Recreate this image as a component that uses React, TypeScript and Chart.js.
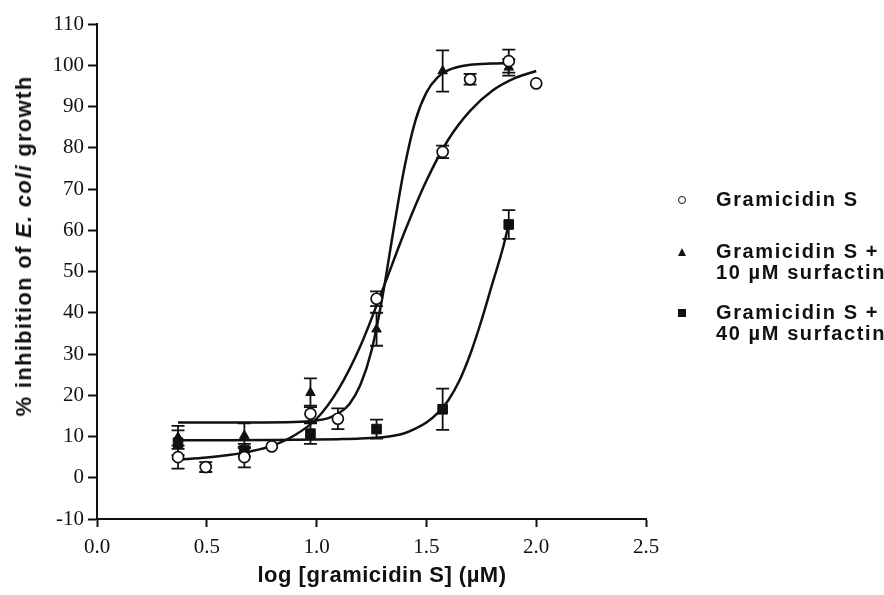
import React, { useEffect, useRef } from "react";
import { Chart, registerables } from "chart.js";

Chart.register(...registerables);

// ---- Data ----
const xTickValues = [0, 0.5, 1.0, 1.5, 2.0, 2.5];
const yTickValues = [-10, 0, 10, 20, 30, 40, 50, 60, 70, 80, 90, 100, 110];

// Gramicidin S alone (open circles)
const gsLogConc = [0.369, 0.495, 0.671, 0.796, 0.972, 1.097, 1.273, 1.574, 1.699, 1.875, 2.0];
const gsMean = [5.0, 2.6, 5.0, 7.6, 15.5, 14.3, 43.4, 79.0, 96.6, 101.0, 95.6];
const gsErr = [2.8, 1.2, 2.5, 0, 2.0, 2.5, 1.8, 1.5, 1.3, 2.8, 0];

// Gramicidin S + 10 uM surfactin (filled triangles)
const gs10LogConc = [0.369, 0.671, 0.972, 1.273, 1.574, 1.875];
const gs10Mean = [9.8, 10.2, 20.6, 36.0, 98.6, 99.5];
const gs10Err = [2.8, 3.0, 3.5, 4.0, 5.0, 2.0];

// Gramicidin S + 40 uM surfactin (filled squares)
const gs40LogConc = [0.369, 0.671, 0.972, 1.273, 1.574, 1.875];
const gs40Mean = [8.5, 6.7, 10.7, 11.8, 16.6, 61.4];
const gs40Err = [3.0, 1.5, 2.5, 2.3, 5.0, 3.5];

// Fitted curves
const fitGsX = [0.369, 0.5, 0.6, 0.7, 0.8, 0.9, 1.0, 1.1, 1.2, 1.3, 1.4, 1.5, 1.6, 1.7, 1.8, 1.9, 2.0];
const fitGsY = [4.4, 4.9, 5.5, 6.4, 7.8, 10.3, 14.3, 21.5, 32.0, 45.5, 59.5, 72.0, 82.0, 89.0, 93.8, 96.8, 98.6];

const fitGs10X = [0.369, 0.7, 0.9, 1.0, 1.05, 1.1, 1.15, 1.2, 1.25, 1.3, 1.35, 1.4, 1.45, 1.5, 1.55, 1.6, 1.7, 1.8, 1.875];
const fitGs10Y = [13.4, 13.4, 13.5, 13.9, 14.4, 15.6, 17.9, 22.6, 30.8, 43.9, 60.0, 75.2, 86.6, 93.4, 97.0, 98.8, 100.1, 100.4, 100.5];

const fitGs40X = [0.369, 0.6, 0.8, 1.0, 1.1, 1.2, 1.3, 1.4, 1.45, 1.5, 1.55, 1.6, 1.65, 1.7, 1.75, 1.8, 1.85, 1.875];
const fitGs40Y = [9.1, 9.1, 9.15, 9.25, 9.35, 9.5, 9.8, 10.8, 11.9, 13.4, 15.6, 18.8, 23.5, 30.0, 38.0, 47.0, 56.0, 61.5];

const MU = "\u00b5";
const legendLabels = [
  ["Gramicidin S"],
  ["Gramicidin S +", `10 ${MU}M surfactin`],
  ["Gramicidin S +", `40 ${MU}M surfactin`],
];
const xTitle = `log [gramicidin S] (${MU}M)`;

const zip = (xs: number[], ys: number[]) => xs.map((x, i) => ({ x, y: ys[i] }));

const errorBarPlugin = {
  id: "errorBars",
  beforeDatasetsDraw(chart: any) {
    const { ctx, scales } = chart;
    const xs = scales.x;
    const ys = scales.y;
    ctx.save();
    ctx.strokeStyle = "#111";
    ctx.lineWidth = 1.8;
    chart.data.datasets.forEach((ds: any) => {
      const errs: number[] | undefined = ds.errors;
      if (!errs) return;
      ds.data.forEach((p: any, j: number) => {
        const e = errs[j];
        if (!e) return;
        const px = xs.getPixelForValue(p.x);
        const top = ys.getPixelForValue(p.y + e);
        const bot = ys.getPixelForValue(p.y - e);
        const cap = 6.5;
        ctx.beginPath();
        ctx.moveTo(px, top);
        ctx.lineTo(px, bot);
        ctx.moveTo(px - cap, top);
        ctx.lineTo(px + cap, top);
        ctx.moveTo(px - cap, bot);
        ctx.lineTo(px + cap, bot);
        ctx.stroke();
      });
    });
    ctx.restore();
  },
};

export default function App() {
  const canvasRef = useRef<HTMLCanvasElement | null>(null);

  useEffect(() => {
    if (!canvasRef.current) return;
    const curveStyle = {
      showLine: true,
      borderColor: "#111",
      borderWidth: 2.5,
      pointRadius: 0,
      cubicInterpolationMode: "monotone" as const,
      fill: false,
      order: 2,
    };
    const chart = new Chart(canvasRef.current, {
      type: "scatter",
      data: {
        datasets: [
          {
            label: "Gramicidin S",
            data: zip(gsLogConc, gsMean),
            errors: gsErr,
            pointStyle: "circle",
            pointRadius: 5.5,
            pointBorderWidth: 1.7,
            pointBorderColor: "#111",
            pointBackgroundColor: "#fff",
            order: 0,
          } as any,
          {
            label: `Gramicidin S + 10 ${MU}M surfactin`,
            data: zip(gs10LogConc, gs10Mean),
            errors: gs10Err,
            pointStyle: "triangle",
            pointRadius: 5.5,
            pointBorderWidth: 1,
            pointBorderColor: "#111",
            pointBackgroundColor: "#111",
            order: 0,
          } as any,
          {
            label: `Gramicidin S + 40 ${MU}M surfactin`,
            data: zip(gs40LogConc, gs40Mean),
            errors: gs40Err,
            pointStyle: "rect",
            pointRadius: 6.8,
            pointBorderWidth: 1,
            pointBorderColor: "#111",
            pointBackgroundColor: "#111",
            order: 0,
          } as any,
          { label: "fit GS", data: zip(fitGsX, fitGsY), ...curveStyle } as any,
          { label: "fit GS10", data: zip(fitGs10X, fitGs10Y), ...curveStyle } as any,
          { label: "fit GS40", data: zip(fitGs40X, fitGs40Y), ...curveStyle } as any,
        ],
      },
      options: {
        animation: false,
        responsive: false,
        events: [],
        layout: { padding: { left: 0, right: 238, top: 24, bottom: 0 } },
        plugins: {
          legend: { display: false },
          tooltip: { enabled: false },
        },
        scales: {
          x: {
            type: "linear",
            min: 0,
            max: 2.5,
            afterFit: (s: any) => {
              s.height = 76;
            },
            afterBuildTicks: (s: any) => {
              s.ticks = xTickValues.map((v) => ({ value: v }));
            },
            ticks: {
              color: "#111",
              font: { family: "'Liberation Serif', 'DejaVu Serif', serif", size: 21 },
              padding: 8,
              callback: (v: any) => Number(v).toFixed(1),
            },
            grid: {
              display: true,
              drawOnChartArea: false,
              drawTicks: true,
              tickLength: 8,
              tickWidth: 2,
              color: "#111",
            },
            border: { display: true, color: "#111", width: 2 },
          },
          y: {
            type: "linear",
            min: -10,
            max: 110,
            afterFit: (s: any) => {
              s.width = 97;
            },
            afterBuildTicks: (s: any) => {
              s.ticks = yTickValues.map((v) => ({ value: v }));
            },
            ticks: {
              color: "#111",
              font: { family: "'Liberation Serif', 'DejaVu Serif', serif", size: 21 },
              padding: 4,
            },
            grid: {
              display: true,
              drawOnChartArea: false,
              drawTicks: true,
              tickLength: 9,
              tickWidth: 2,
              color: "#111",
            },
            border: { display: true, color: "#111", width: 2 },
          },
        },
      } as any,
      plugins: [errorBarPlugin],
    });
    return () => chart.destroy();
  }, []);

  const sans = "'Liberation Sans', Arial, Helvetica, sans-serif";
  const rowTops = [189, 241, 302];
  const markerCenters = [200, 252, 313];

  return (
    <div style={{ position: "fixed", left: 0, top: 0, width: 884, height: 595, background: "#fff", overflow: "hidden" }}>
      <canvas ref={canvasRef} width={884} height={595} style={{ position: "absolute", left: 0, top: 0 }} />
      <div
        style={{
          position: "absolute",
          left: 24,
          top: 246,
          transform: "translate(-50%, -50%) rotate(-90deg)",
          whiteSpace: "nowrap",
          fontFamily: sans,
          fontWeight: "bold",
          fontSize: 22,
          letterSpacing: "1.3px",
          color: "#111",
          lineHeight: "24px",
        }}
      >
        % inhibition of <i>E. coli</i> growth
      </div>
      <div
        style={{
          position: "absolute",
          left: 382,
          top: 564,
          transform: "translateX(-50%)",
          whiteSpace: "nowrap",
          fontFamily: sans,
          fontWeight: "bold",
          fontSize: 22,
          letterSpacing: "0.5px",
          color: "#111",
          lineHeight: "22px",
        }}
      >
        {xTitle}
      </div>
      {legendLabels.map((lines, i) => (
        <React.Fragment key={i}>
          <div
            style={{
              position: "absolute",
              left: 716,
              top: rowTops[i],
              whiteSpace: "nowrap",
              fontFamily: sans,
              fontWeight: "bold",
              fontSize: 20,
              letterSpacing: "1.6px",
              color: "#111",
              lineHeight: "21px",
            }}
          >
            {lines.map((l, k) => (
              <div key={k}>{l}</div>
            ))}
          </div>
          {i === 0 && (
            <div
              style={{
                position: "absolute",
                left: 682 - 4.5,
                top: markerCenters[i] - 4.5,
                width: 6,
                height: 6,
                border: "1.8px solid #111",
                borderRadius: "50%",
                background: "#fff",
              }}
            />
          )}
          {i === 1 && (
            <div
              style={{
                position: "absolute",
                left: 682 - 4.5,
                top: markerCenters[i] - 4.5,
                width: 0,
                height: 0,
                borderLeft: "4.5px solid transparent",
                borderRight: "4.5px solid transparent",
                borderBottom: "8px solid #111",
              }}
            />
          )}
          {i === 2 && (
            <div
              style={{
                position: "absolute",
                left: 682 - 4,
                top: markerCenters[i] - 4,
                width: 8,
                height: 8,
                background: "#111",
              }}
            />
          )}
        </React.Fragment>
      ))}
    </div>
  );
}
